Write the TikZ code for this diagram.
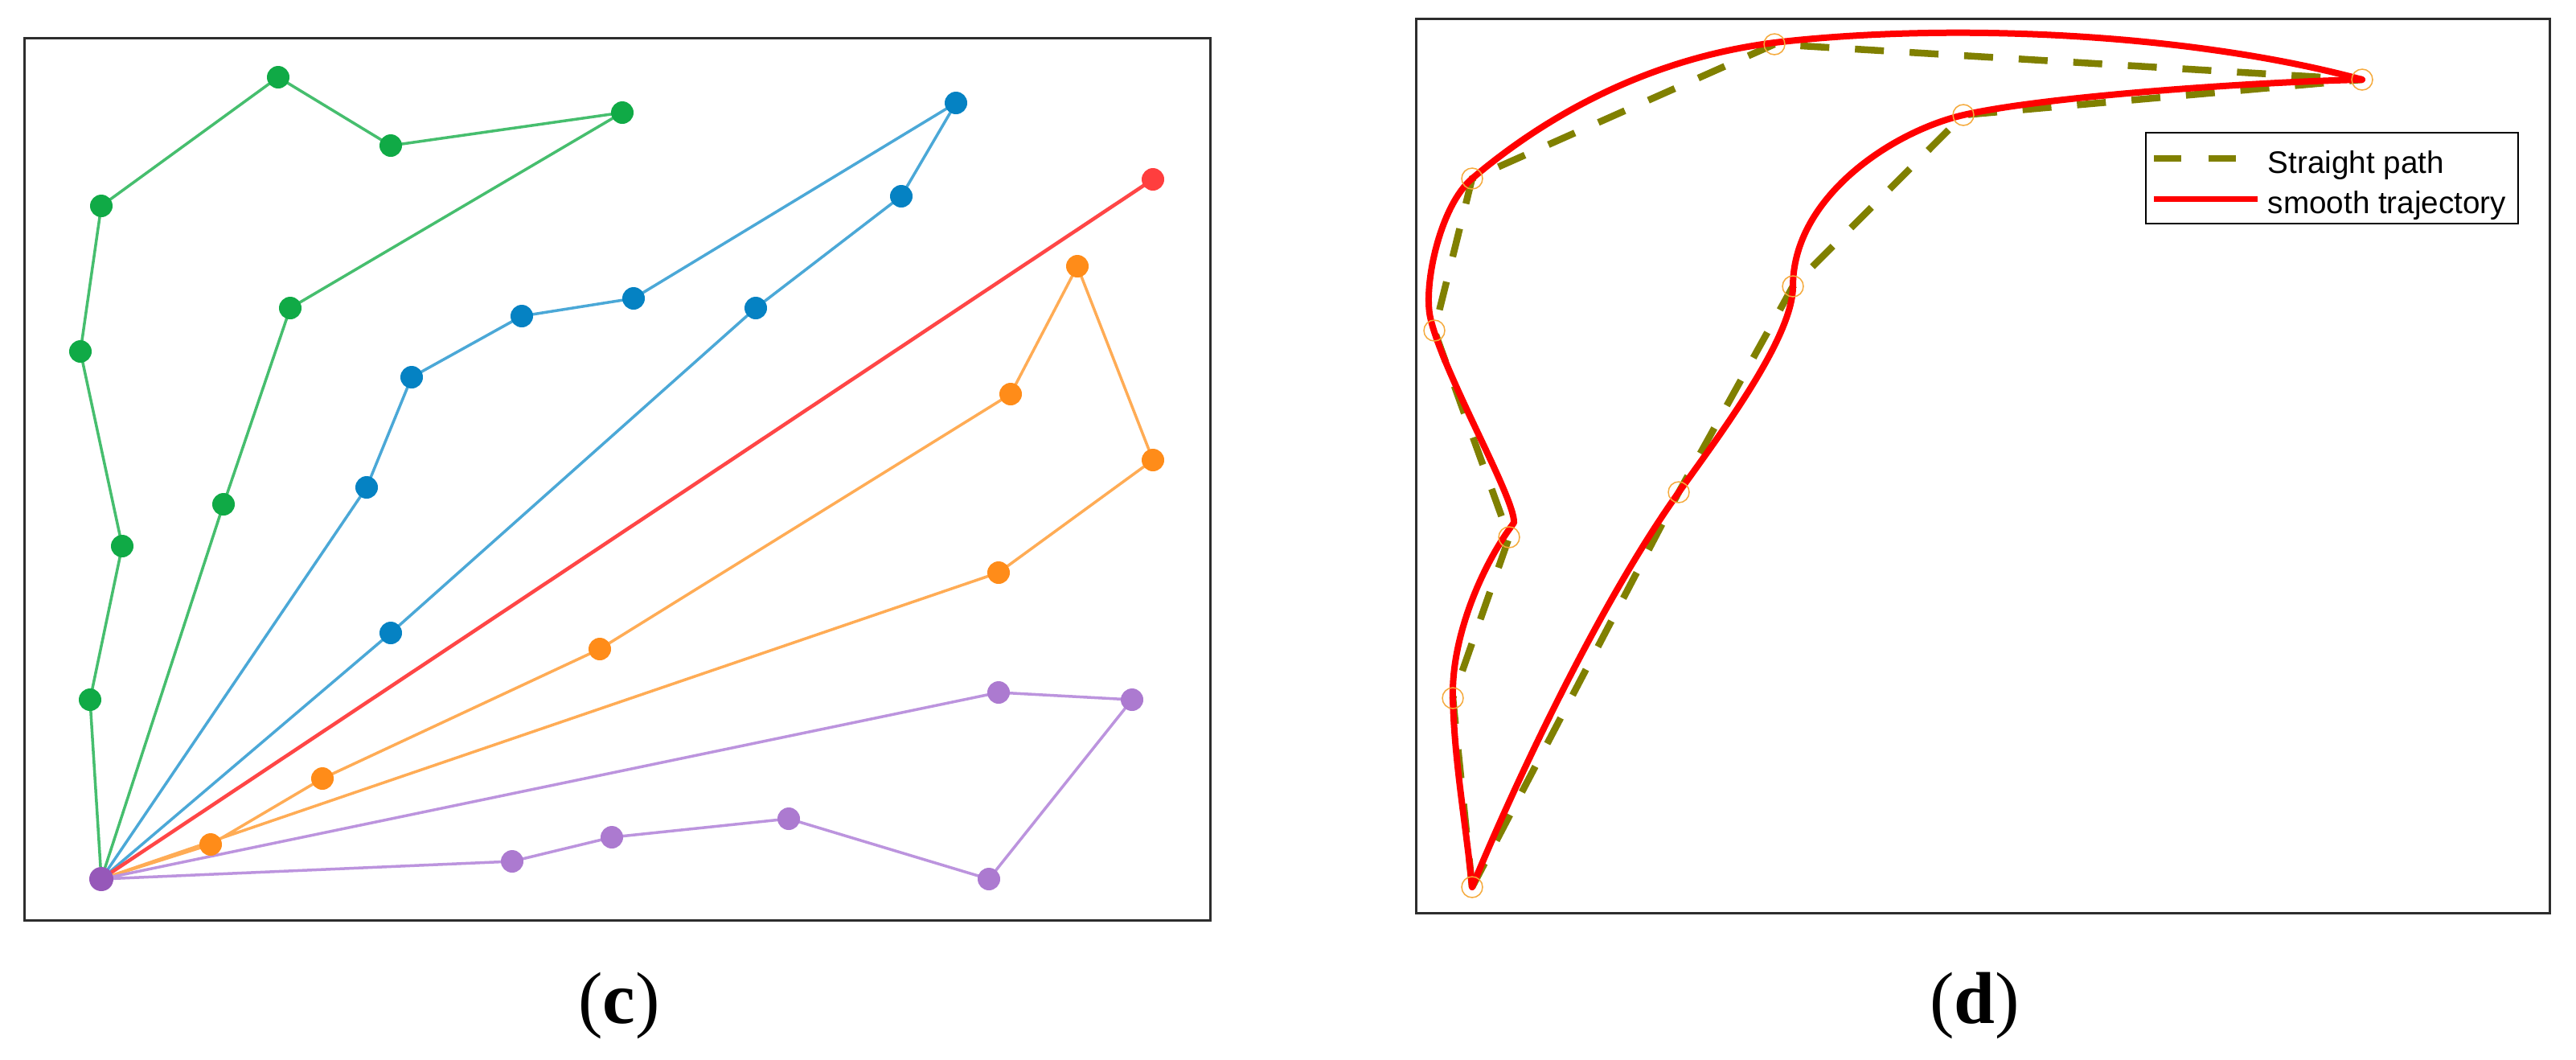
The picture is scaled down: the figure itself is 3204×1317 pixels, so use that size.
\documentclass[tikz,border=0pt]{standalone}
\usepackage{fontspec}
\setmainfont{Liberation Serif}
\newfontfamily\legfont{Liberation Sans}
\pgfdeclarelayer{background}
\pgfdeclarelayer{canvas}
\pgfsetlayers{canvas,background,main}
\definecolor{gD}{RGB}{16,170,70}
\definecolor{gL}{RGB}{70,190,110}
\definecolor{bD}{RGB}{5,130,195}
\definecolor{bL}{RGB}{75,168,215}
\definecolor{rD}{RGB}{255,62,62}
\definecolor{rL}{RGB}{255,70,70}
\definecolor{oD}{RGB}{255,140,25}
\definecolor{oL}{RGB}{255,172,85}
\definecolor{pD}{RGB}{150,88,185}
\definecolor{pM}{RGB}{172,122,208}
\definecolor{pL}{RGB}{188,148,222}
\definecolor{olv}{RGB}{128,128,0}
\definecolor{frm}{RGB}{45,45,45}
\definecolor{mk}{RGB}{245,170,60}
\tikzset{
  dot/.style={circle, fill=#1, inner sep=0pt, minimum size=2.8mm},
  route/.style={draw=#1, line width=0.35mm, line join=round},
  wp/.style={circle, draw=mk, line width=0.15mm, inner sep=0pt, minimum size=2.6mm},
  straightpath/.style={draw=olv, line width=0.85mm, dash pattern=on 3.6mm off 3.2mm},
  traj/.style={draw=red, line width=0.8mm, line join=round, line cap=round},
  frame/.style={draw=frm, line width=0.3mm},
  lab/.style={anchor=base, font=\fontsize{26}{30}\selectfont},
  legtext/.style={anchor=base west, inner sep=0pt, font=\legfont\fontsize{11}{13}\selectfont}
}
\begin{document}
\begin{tikzpicture}[x=0.1mm, y=-0.1mm]
\useasboundingbox (0,0) rectangle (3204,1317);
\begin{pgfonlayer}{canvas}
\fill[white] (0,0) rectangle (3204,1317);
\end{pgfonlayer}

% ---------------- panel (c) ----------------
\draw[frame] (30,47) rectangle (1505,1144);

\node[dot=pD, minimum size=3mm] (d0) at (126,1093) {};
% green
\node[dot=gD] (g1) at (112,870) {};
\node[dot=gD] (g2) at (152,679) {};
\node[dot=gD] (g3) at (100,437) {};
\node[dot=gD] (g4) at (126,256) {};
\node[dot=gD] (g5) at (346,96) {};
\node[dot=gD] (g6) at (486,181) {};
\node[dot=gD] (g7) at (774,140) {};
\node[dot=gD] (g8) at (361,383) {};
\node[dot=gD] (g9) at (278,627) {};
% blue
\node[dot=bD] (b1) at (456,606) {};
\node[dot=bD] (b2) at (512,469) {};
\node[dot=bD] (b3) at (649,393) {};
\node[dot=bD] (b4) at (788,371) {};
\node[dot=bD] (b5) at (1189,128) {};
\node[dot=bD] (b6) at (1121,244) {};
\node[dot=bD] (b7) at (940,383) {};
\node[dot=bD] (b8) at (486,787) {};
% red
\node[dot=rD] (r1) at (1434,223) {};
% orange
\node[dot=oD] (o1) at (262,1050) {};
\node[dot=oD] (o2) at (401,968) {};
\node[dot=oD] (o3) at (746,807) {};
\node[dot=oD] (o4) at (1257,490) {};
\node[dot=oD] (o5) at (1340,331) {};
\node[dot=oD] (o6) at (1434,572) {};
\node[dot=oD] (o7) at (1242,712) {};
% purple
\node[dot=pM] (u1) at (1242,861) {};
\node[dot=pM] (u2) at (1408,870) {};
\node[dot=pM] (u3) at (1230,1093) {};
\node[dot=pM] (u4) at (981,1018) {};
\node[dot=pM] (u5) at (761,1041) {};
\node[dot=pM] (u6) at (637,1071) {};

\begin{pgfonlayer}{background}
\draw[route=gL] (d0.center) -- (g1.center) -- (g2.center) -- (g3.center) -- (g4.center) -- (g5.center) -- (g6.center) -- (g7.center) -- (g8.center) -- (g9.center) -- (d0.center);
\draw[route=bL] (d0.center) -- (b1.center) -- (b2.center) -- (b3.center) -- (b4.center) -- (b5.center) -- (b6.center) -- (b7.center) -- (b8.center) -- (d0.center);
\draw[route=rL, line width=0.45mm] (d0.center) -- (r1.center);
\draw[route=oL] (d0.center) -- (o1.center) -- (o2.center) -- (o3.center) -- (o4.center) -- (o5.center) -- (o6.center) -- (o7.center) -- (d0.center);
\draw[route=pL] (d0.center) -- (u1.center) -- (u2.center) -- (u3.center) -- (u4.center) -- (u5.center) -- (u6.center) -- (d0.center);
\end{pgfonlayer}

\node[lab] (labc) at (770,1272) {(\textbf{c})};

% ---------------- panel (d) ----------------
\draw[frame] (1761,23) rectangle (3171,1135);

\node[wp] (p1) at (1831,1103) {};
\node[wp] (p2) at (1807,868) {};
\node[wp] (p3) at (1877,668) {};
\node[wp] (p4) at (1784,411) {};
\node[wp] (p5) at (1831,222) {};
\node[wp] (p6) at (2207,55) {};
\node[wp] (p7) at (2938,99) {};
\node[wp] (p8) at (2442,143) {};
\node[wp] (p9) at (2230,356) {};
\node[wp] (p10) at (2088,612) {};

\coordinate (tturn) at (1883,650);
\coordinate (tleft) at (1779,395);
\coordinate (ttop) at (2207,53);
\coordinate (tnine) at (2230,356);

\begin{pgfonlayer}{background}
\draw[straightpath] (p1.center) -- (p2.center) -- (p3.center) -- (p4.center) -- (p5.center) -- (p6.center) -- (p7.center) -- (p8.center) -- (p9.center) -- (p10.center) -- cycle;
% smooth trajectory, outward branch
\draw[traj] (p1.center) .. controls (1823,1023) and (1809,948) .. (p2.center)
  .. controls (1805,790) and (1845,700) .. (tturn)
  .. controls (1885,620) and (1795,465) .. (tleft)
  .. controls (1770,355) and (1791,256) .. (p5.center)
  .. controls (1930,138) and (2057,72) .. (ttop)
  .. controls (2420,28) and (2720,40) .. (p7.center);
% smooth trajectory, return branch
\draw[traj] (p7.center) .. controls (2800,102) and (2542,120) .. (p8.center)
  .. controls (2352,164) and (2230,246) .. (tnine)
  .. controls (2230,420) and (2138,542) .. (p10.center)
  .. controls (1988,752) and (1881,981) .. (p1.center);
\end{pgfonlayer}

% legend
\node[draw=black, line width=0.2mm, fill=white, anchor=north west, minimum width=46.3mm, minimum height=11.3mm, inner sep=0pt] (leg) at (2668,164) {};
\coordinate (ls1) at (2679,197);
\coordinate (ls2) at (2781,197);
\coordinate (lt1) at (2679,247);
\coordinate (lt2) at (2808,247);
\draw[straightpath, dash pattern=on 3.4mm off 3.4mm] (ls1) -- (ls2);
\draw[traj, line width=0.7mm, line cap=butt] (lt1) -- (lt2);
\node[legtext] (legA) at (2820,215) {Straight path};
\node[legtext] (legB) at (2820,265) {smooth trajectory};

\node[lab] (labd) at (2456,1272) {(\textbf{d})};
\end{tikzpicture}
\end{document}
